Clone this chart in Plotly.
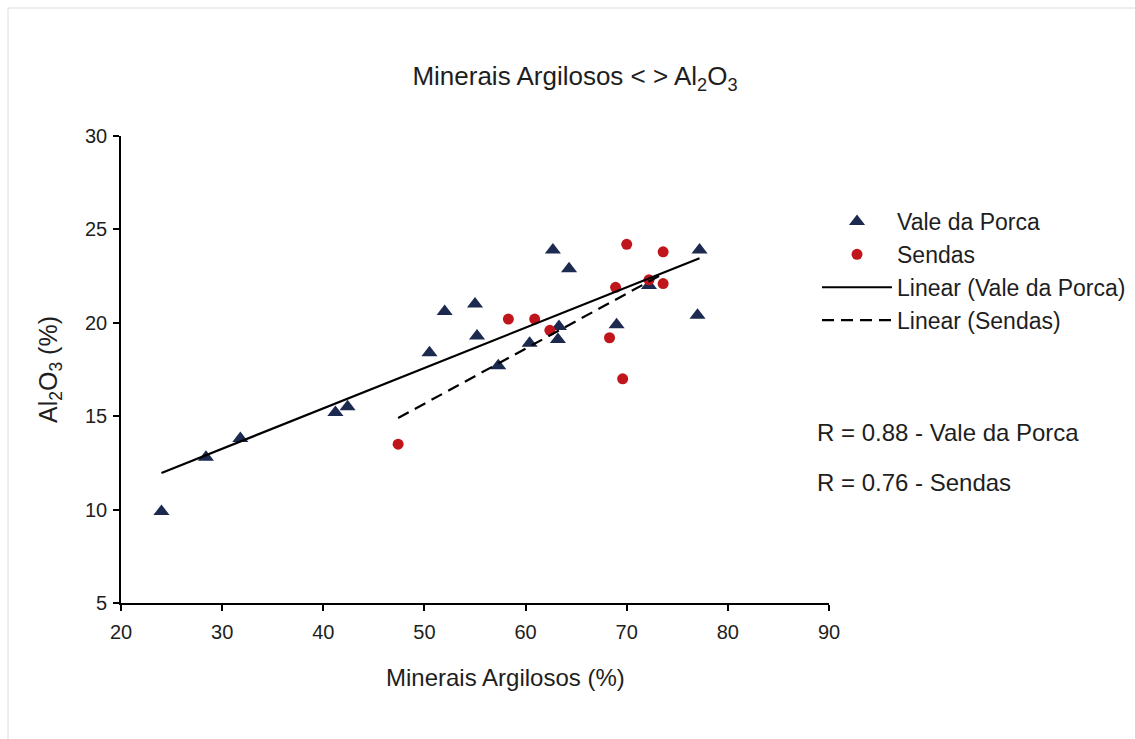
import numpy as np
import plotly.graph_objects as go

# Vale da Porca
vp_x = [24.0, 28.4, 31.8, 41.2, 42.4, 50.5, 52.0, 55.0, 55.2, 57.3, 60.4, 62.7, 63.2, 63.3, 64.3, 69.0, 72.2, 77.0, 77.2]
vp_y = [9.9, 12.8, 13.8, 15.2, 15.5, 18.4, 20.6, 21.0, 19.3, 17.7, 18.9, 23.9, 19.1, 19.8, 22.9, 19.9, 22.0, 20.4, 23.9]
# Sendas
se_x = [47.4, 58.3, 60.9, 62.4, 68.3, 68.9, 69.6, 70.0, 72.2, 73.6, 73.6]
se_y = [13.5, 20.2, 20.2, 19.6, 19.2, 21.9, 17.0, 24.2, 22.3, 23.8, 22.1]

r_labels = ["R = 0.88 - Vale da Porca", "R = 0.76 - Sendas"]

FONT = "Liberation Sans, Arial, sans-serif"
TXT = "#1e1e1e"

W, H = 1135, 739
L, R, T, B = 121, 306, 136, 136
PW, PH = W - L - R, H - T - B


def px_x(p):
    return (p - L) / PW


def px_y(p):
    return (H - B - p) / PH


def trend(x, y):
    x = np.array(x)
    m, b = np.polyfit(x, np.array(y), 1)
    xs = np.array([x.min(), x.max()])
    return xs, m * xs + b


fig = go.Figure()
fig.add_trace(go.Scatter(x=vp_x, y=vp_y, mode="markers", name="Vale da Porca",
                         marker=dict(symbol="triangle-up", size=14, color="#1c2a4f")))
fig.add_trace(go.Scatter(x=se_x, y=se_y, mode="markers", name="Sendas",
                         marker=dict(symbol="circle", size=11, color="#c0161b")))
tx, ty = trend(vp_x, vp_y)
fig.add_trace(go.Scatter(x=tx, y=ty, mode="lines", name="Linear (Vale da Porca)",
                         line=dict(color="black", width=2.2)))
tx, ty = trend(se_x, se_y)
fig.add_trace(go.Scatter(x=tx, y=ty, mode="lines", name="Linear (Sendas)",
                         line=dict(color="black", width=2.2, dash="12px,7px")))

fig.update_layout(
    width=W, height=H,
    margin=dict(l=L, r=R, t=T, b=B, autoexpand=False),
    paper_bgcolor="white", plot_bgcolor="white",
    font=dict(family=FONT, size=20, color=TXT),
    title=dict(text="Minerais Argilosos < > Al<sub>2</sub>O<sub>3</sub>",
               x=575 / W, xanchor="center", y=1 - 76 / H, yanchor="middle",
               font=dict(size=26, family=FONT, color=TXT)),
    legend=dict(x=px_x(817), y=px_y(200), xanchor="left", yanchor="top",
                font=dict(size=23, family=FONT, color=TXT),
                bgcolor="rgba(0,0,0,0)", tracegroupgap=0, itemwidth=70),
    showlegend=True,
    shapes=[
        dict(type="line", xref="paper", yref="paper", x0=px_x(8), x1=px_x(1135), y0=px_y(8), y1=px_y(8),
             line=dict(color="#dcdcdc", width=1)),
        dict(type="line", xref="paper", yref="paper", x0=px_x(8), x1=px_x(8), y0=px_y(8), y1=px_y(739),
             line=dict(color="#dcdcdc", width=1)),
    ],
)
fig.update_xaxes(range=[20, 90], dtick=10, tick0=20, showgrid=False, zeroline=False,
                 showline=True, linecolor="black", linewidth=1.6,
                 ticks="outside", ticklen=6, tickcolor="black", tickwidth=1.6,
                 ticklabelstandoff=4,
                 tickfont=dict(size=20, family=FONT, color=TXT))
fig.update_yaxes(range=[5, 30], dtick=5, tick0=5, showgrid=False, zeroline=False,
                 showline=True, linecolor="black", linewidth=1.6,
                 ticks="outside", ticklen=6, tickcolor="black", tickwidth=1.6,
                 ticklabelstandoff=2,
                 tickfont=dict(size=20, family=FONT, color=TXT),
                 title=dict(text="Al<sub>2</sub>O<sub>3</sub> (%)", font=dict(size=25, family=FONT, color=TXT), standoff=20))

# x-axis title (offset to the right of the plot centre, as in the reference)
fig.add_annotation(text="Minerais Argilosos (%)", xref="paper", yref="paper",
                   x=px_x(505), y=px_y(677), xanchor="center", yanchor="middle", showarrow=False,
                   font=dict(size=24, family=FONT, color=TXT))

for i, t in enumerate(r_labels):
    fig.add_annotation(text=t, xref="paper", yref="paper",
                       x=px_x(815), y=px_y(432 + 50 * i),
                       xanchor="left", yanchor="middle", showarrow=False,
                       font=dict(size=24, family=FONT, color=TXT))

fig.write_html("out.html", config={"displayModeBar": False})

# remove default page margin so the figure sits at the window origin
with open("out.html", "r", encoding="utf-8") as f:
    html = f.read()
html = html.replace("<head>", "<head><style>html,body{margin:0;padding:0;}</style>", 1)
with open("out.html", "w", encoding="utf-8") as f:
    f.write(html)
